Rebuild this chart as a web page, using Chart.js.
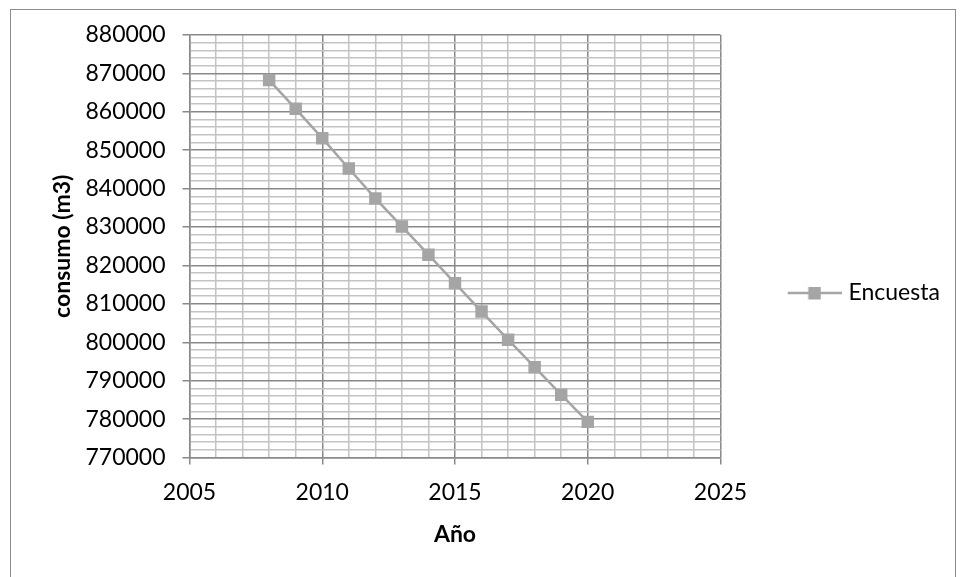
<!DOCTYPE html>
<html>
<head>
<meta charset="utf-8">
<script src="https://cdn.jsdelivr.net/npm/chart.js@4.4.0/dist/chart.umd.min.js"></script>
<style>
  html, body { margin: 0; padding: 0; background: #fff; overflow: hidden; }
  #wrap { position: relative; width: 961px; height: 577px; }
  #c { position: absolute; left: 0; top: 0; }
  #frame { position: absolute; left: 10px; top: 9px; width: 946px; height: 620px;
           border: 1px solid #8c8c8c; box-sizing: border-box; pointer-events: none; }
</style>
</head>
<body>
<div id="wrap">
  <canvas id="c" width="961" height="577"></canvas>
  <div id="frame"></div>
</div>
<script>
// Consumo anual estimado a partir de la encuesta
const years   = [2008, 2009, 2010, 2011, 2012, 2013, 2014, 2015, 2016, 2017, 2018, 2019, 2020];
const consumo = [868260, 860780, 853130, 845250, 837450, 830150, 822800, 815380, 808000, 800680, 793500, 786360, 779270];
const seriesName = 'Encuesta';
const xTitle = 'Año';
const yTitle = 'consumo (m3)';

// Labelled (major) ticks; minor grid lines fall between them
const xTickLabels = [2005, 2010, 2015, 2020, 2025];
const yTickLabels = [770000, 780000, 790000, 800000, 810000, 820000, 830000, 840000, 850000, 860000, 870000, 880000];
const xMinorStep = 1;
const yMinorStep = 2000;

// Styling
const FONT = 'Lato';
const seriesColor = '#a5a5a5';
const majorGrid = '#898989';
const minorGrid = '#c3c3c3';

// Plot-area geometry
const PLOT_LEFT = 189.5, PLOT_TOP = 35, PLOT_RIGHT = 720.5, PLOT_BOTTOM = 457.5;
const PAD_BOTTOM = 26;
const legendFontSize = 23;
const legendSymbolWidth = 106.5;

// Legend glyph: line with a square marker, like the series itself
function legendSymbol() {
  const c = document.createElement('canvas');
  c.width = 116; c.height = 14;
  const g = c.getContext('2d');
  g.strokeStyle = seriesColor;
  g.lineWidth = 2.5;
  g.beginPath(); g.moveTo(62, 7); g.lineTo(116, 7); g.stroke();
  g.fillStyle = seriesColor;
  g.fillRect(82.5, 1, 12.5, 12.5);
  return c;
}
const legendGlyph = legendSymbol();

// Right padding so the legend starts exactly at the plot's right edge
const mctx = document.createElement('canvas').getContext('2d');
mctx.font = legendFontSize + 'px ' + FONT;
const legendTextW = mctx.measureText(seriesName).width;
const legendW = 10 + legendSymbolWidth + legendFontSize / 2 + legendTextW + 10;
const padRight = Math.max(0, 961 - PLOT_RIGHT - legendW);

Chart.defaults.font.family = FONT;
Chart.defaults.color = '#000';

const isMajorX = v => xTickLabels.includes(v);
const isMajorY = v => yTickLabels.includes(v);

new Chart(document.getElementById('c'), {
  type: 'scatter',
  data: {
    datasets: [{
      label: seriesName,
      data: years.map((y, i) => ({ x: y, y: consumo[i] })),
      showLine: true,
      borderColor: seriesColor,
      backgroundColor: seriesColor,
      borderWidth: 2.5,
      pointStyle: 'rect',
      pointRadius: 8.8,
      pointHoverRadius: 8.8,
      pointBorderWidth: 0,
      pointBackgroundColor: seriesColor
    }]
  },
  options: {
    responsive: false,
    animation: false,
    devicePixelRatio: 1,
    layout: { padding: { left: 0, top: PLOT_TOP, right: padRight, bottom: PAD_BOTTOM } },
    plugins: {
      tooltip: { enabled: false },
      legend: {
        position: 'right',
        align: 'center',
        labels: {
          usePointStyle: true,
          pointStyleWidth: legendSymbolWidth,
          padding: 10,
          color: '#000',
          font: { family: FONT, size: legendFontSize },
          generateLabels(chart) {
            const items = Chart.defaults.plugins.legend.labels.generateLabels(chart);
            items.forEach(it => { it.pointStyle = legendGlyph; });
            return items;
          }
        }
      }
    },
    scales: {
      x: {
        type: 'linear',
        min: xTickLabels[0],
        max: xTickLabels[xTickLabels.length - 1],
        afterFit(scale) { scale.height = 577 - PAD_BOTTOM - PLOT_BOTTOM; },
        ticks: {
          stepSize: xMinorStep,
          autoSkip: false,
          maxRotation: 0,
          minRotation: 0,
          padding: 14,
          color: '#000',
          font: { family: FONT, size: 23 },
          callback: v => isMajorX(v) ? String(v) : ''
        },
        grid: {
          color: c => (c.tick && isMajorX(c.tick.value)) ? majorGrid : minorGrid,
          tickColor: c => (c.tick && isMajorX(c.tick.value)) ? majorGrid : 'rgba(0,0,0,0)',
          lineWidth: 1.5,
          tickLength: 7,
          tickWidth: 1.5
        },
        border: { display: true, color: majorGrid, width: 1.5 },
        title: {
          display: true,
          text: xTitle,
          color: '#000',
          font: { family: FONT, size: 23, weight: 'bold' },
          padding: { top: 0, bottom: 2.5 }
        }
      },
      y: {
        type: 'linear',
        min: yTickLabels[0],
        max: yTickLabels[yTickLabels.length - 1],
        afterFit(scale) { scale.width = PLOT_LEFT; },
        ticks: {
          stepSize: yMinorStep,
          autoSkip: false,
          padding: 17,
          color: '#000',
          font: { family: FONT, size: 23 },
          callback: v => isMajorY(v) ? String(v) : ''
        },
        grid: {
          color: c => (c.tick && isMajorY(c.tick.value)) ? majorGrid : minorGrid,
          tickColor: c => (c.tick && isMajorY(c.tick.value)) ? majorGrid : 'rgba(0,0,0,0)',
          lineWidth: 1.5,
          tickLength: 7,
          tickWidth: 1.5
        },
        border: { display: true, color: majorGrid, width: 1.5 },
        title: {
          display: true,
          text: yTitle,
          color: '#000',
          font: { family: FONT, size: 23, weight: 'bold' },
          padding: { top: 49, bottom: 0 }
        }
      }
    }
  }
});
</script>
</body>
</html>
